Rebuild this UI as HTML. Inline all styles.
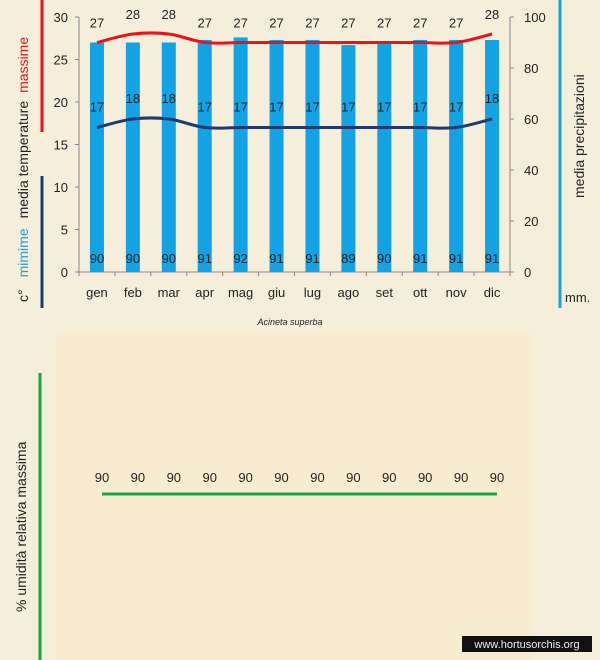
<!DOCTYPE html>
<html><head><meta charset="utf-8"><style>
html,body{margin:0;padding:0;background:#f4eedb;width:600px;height:660px;overflow:hidden;font-family:"Liberation Sans",sans-serif}
svg{position:absolute;left:0;top:0}
</style></head><body>
<svg width="600" height="660" id="svg">
<rect x="0" y="0" width="600" height="660" fill="#f4eedb"/>
<rect x="56" y="332" width="476" height="328" fill="#f8ecd0"/>
<line x1="42" y1="0" x2="42" y2="132" stroke="#e8141a" stroke-width="3"/>
<line x1="42" y1="176" x2="42" y2="308" stroke="#1f3a6e" stroke-width="3"/>
<line x1="560" y1="0" x2="560" y2="308" stroke="#1ba0dc" stroke-width="3"/>
<line x1="40" y1="373" x2="40" y2="660" stroke="#1aa33c" stroke-width="3"/>
<text transform="translate(28,302) rotate(-90)" font-size="14"><tspan fill="#222">c°</tspan><tspan dx="12" fill="#1ba0dc">mimime</tspan><tspan dx="10" fill="#222">media  temperature</tspan><tspan dx="8" fill="#e8141a">massime</tspan></text>
<text transform="translate(584,198) rotate(-90)" font-size="14" fill="#222">media  precipitazioni</text>
<text x="565" y="302" font-size="13" fill="#222">mm.</text>
<text transform="translate(26,612) rotate(-90)" font-size="14" fill="#222">% umidità relativa massima</text>
<text x="290" y="325" font-size="9" font-style="italic" fill="#222" text-anchor="middle">Acineta superba</text>
<rect x="462" y="636" width="130" height="16" fill="#111"/>
<text x="527" y="648" font-size="11" fill="#eee" text-anchor="middle">www.hortusorchis.org</text>
<g id="chart"></g>
</svg>
<script>
const months=["gen","feb","mar","apr","mag","giu","lug","ago","set","ott","nov","dic"];
const maxTemp=[27,28,28,27,27,27,27,27,27,27,27,28];
const minTemp=[17,18,18,17,17,17,17,17,17,17,17,18];
const rain=[90,90,90,91,92,91,91,89,90,91,91,91];
const humidity=[90,90,90,90,90,90,90,90,90,90,90,90];
const tempTicks=[0,5,10,15,20,25,30];
const rainTicks=[0,20,40,60,80,100];

const NS="http://www.w3.org/2000/svg";
const g=document.getElementById("chart");
const X0=79,X1=510,Y0=272,Y1=17;
const band=(X1-X0)/months.length;
const xs=i=>X0+band*(i+0.5);
const yT=v=>Y0-(v/30)*(Y0-Y1);
const yR=v=>Y0-(v/100)*(Y0-Y1);
const hx=i=>102+(497-102)*i/(months.length-1);
const yH=v=>494-(v-90)*3;
function mk(tag,attrs){const e=document.createElementNS(NS,tag);for(const k in attrs)e.setAttribute(k,attrs[k]);g.appendChild(e);return e;}
function txt(x,y,s,anchor,size,fill){const e=mk("text",{x:x,y:y,"font-size":size||12,"text-anchor":anchor||"middle",fill:fill||"#222"});e.textContent=s;return e;}
function smooth(pts){let d="M"+pts[0][0]+","+pts[0][1];for(let i=0;i<pts.length-1;i++){const p0=pts[Math.max(0,i-1)],p1=pts[i],p2=pts[i+1],p3=pts[Math.min(pts.length-1,i+2)];const c1=[p1[0]+(p2[0]-p0[0])/6,p1[1]+(p2[1]-p0[1])/6],c2=[p2[0]-(p3[0]-p1[0])/6,p2[1]-(p3[1]-p1[1])/6];d+=" C"+c1+" "+c2+" "+p2;}return d;}

let e=mk("line",{x1:X0,y1:Y1,x2:X0,y2:Y0,stroke:"#888"});


e=mk("line",{x1:X1,y1:Y1,x2:X1,y2:Y0,stroke:"#888"});


e=mk("line",{x1:X0,y1:Y0,x2:X1,y2:Y0,stroke:"#888"});


tempTicks.forEach(t=>{mk("line",{x1:X0-4,x2:X0,y1:yT(t),y2:yT(t),stroke:"#888"});
 e=txt(X0-11,yT(t)+5,String(t),"end",13);
 
 });
rainTicks.forEach(t=>{mk("line",{x1:X1,x2:X1+4,y1:yR(t),y2:yR(t),stroke:"#888"});
 e=txt(X1+14,yR(t)+5,String(t),"start",13);
 
 });
for(let i=0;i<=months.length;i++)mk("line",{x1:X0+band*i,x2:X0+band*i,y1:Y0,y2:Y0+4,stroke:"#888"});
months.forEach((m,i)=>{e=txt(xs(i),297,m,"middle",13);
 
 });
rain.forEach((v,i)=>{e=mk("rect",{x:xs(i)-7,y:yR(v),width:14,height:Y0-yR(v),fill:"#13a3e4"});
 
 
 e=txt(xs(i),263,String(v),"middle",13);
 
 });
e=mk("path",{d:smooth(maxTemp.map((v,i)=>[xs(i),yT(v)])),fill:"none",stroke:"#e8141a","stroke-width":3});


e=mk("path",{d:smooth(minTemp.map((v,i)=>[xs(i),yT(v)])),fill:"none",stroke:"#1f3a6e","stroke-width":3});


maxTemp.forEach((v,i)=>{e=txt(xs(i),yT(v)-15,String(v),"middle",13);
 
 });
minTemp.forEach((v,i)=>{e=txt(xs(i),yT(v)-16,String(v),"middle",13);
 
 });
e=mk("path",{d:smooth(humidity.map((v,i)=>[hx(i),yH(v)])),fill:"none",stroke:"#1aa33c","stroke-width":3});


humidity.forEach((v,i)=>{e=txt(hx(i),yH(v)-12,String(v),"middle",13);
 
 });
</script>
</body></html>
